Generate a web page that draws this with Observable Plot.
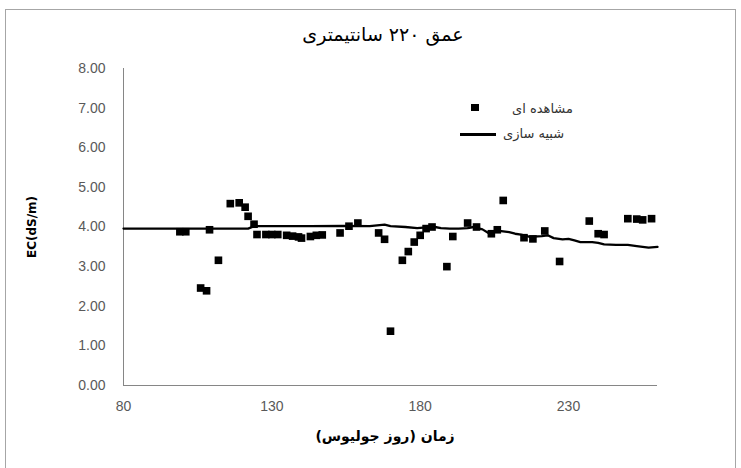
<!DOCTYPE html>
<html>
<head>
<meta charset="utf-8">
<script src="https://cdn.jsdelivr.net/npm/d3@7"></script>
<script src="https://cdn.jsdelivr.net/npm/@observablehq/plot@0.6"></script>
<style>
  html, body { margin: 0; padding: 0; background: #fff; overflow: hidden; }
  #wrap { position: relative; width: 741px; height: 468px; font-family: "Liberation Sans", "DejaVu Sans", sans-serif; }
  #frame { position: absolute; left: 5px; top: 9px; width: 731px; height: 480px; border: 1px solid #a6a6a6; box-sizing: border-box; }
  .abs { position: absolute; white-space: nowrap; }
  #title { left: 0; width: 766px; top: 23px; text-align: center; font-size: 19px; color: #000; direction: rtl; font-family: "DejaVu Sans", sans-serif; }
  #xtitle { left: 0; width: 770px; top: 428px; text-align: center; font-size: 14px; font-weight: bold; color: #000; direction: rtl; font-family: "DejaVu Sans", sans-serif; }
  #ytitle { left: 32px; top: 227px; transform: translate(-50%, -50%) rotate(-90deg); font-size: 12px; font-weight: bold; color: #000; font-family: "DejaVu Sans", sans-serif; }
  .legtxt { font-size: 13px; color: #333; direction: rtl; font-family: "DejaVu Sans", sans-serif; }
  svg { position: absolute; left: 0; top: 0; }
</style>
</head>
<body>
<div id="wrap">
  <div id="frame"></div>
</div>
<script>
// Observed EC (Julian day, dS/m)
const obsDay = [99, 101, 106, 108, 109, 112, 116, 119, 121, 122, 124, 125, 128, 130, 132, 135, 137, 139, 140, 143, 145, 147, 153, 156, 159, 166, 168, 170, 174, 176, 178, 180, 182, 184, 189, 191, 196, 199, 204, 206, 208, 215, 218, 222, 227, 237, 240, 242, 250, 253, 255, 258];
const obsEC  = [3.88, 3.88, 2.46, 2.39, 3.93, 3.16, 4.59, 4.61, 4.50, 4.27, 4.07, 3.81, 3.81, 3.81, 3.81, 3.79, 3.77, 3.75, 3.72, 3.76, 3.79, 3.80, 3.85, 4.02, 4.10, 3.85, 3.69, 1.37, 3.16, 3.38, 3.62, 3.79, 3.96, 4.00, 3.00, 3.76, 4.10, 4.00, 3.83, 3.93, 4.67, 3.73, 3.70, 3.90, 3.13, 4.15, 3.83, 3.81, 4.21, 4.20, 4.18, 4.21];

// Simulated EC
const simDay = [80, 122, 124, 143, 154, 163, 168, 170, 175, 179, 182, 185, 187, 190, 193, 196, 198, 201, 203, 206, 210, 212, 214, 217, 221, 223, 225, 228, 230, 232, 234, 238, 240, 242, 246, 250, 253, 257, 260];
const simEC  = [3.96, 3.96, 4.02, 4.02, 4.03, 4.02, 4.06, 4.02, 4.00, 3.97, 3.99, 4.00, 3.97, 3.96, 3.96, 3.97, 4.00, 3.94, 3.85, 3.91, 3.87, 3.83, 3.81, 3.75, 3.77, 3.79, 3.72, 3.69, 3.70, 3.66, 3.62, 3.62, 3.60, 3.56, 3.55, 3.55, 3.52, 3.48, 3.50];

const xTicks = [80, 130, 180, 230];
const yTicks = [0, 1, 2, 3, 4, 5, 6, 7, 8];

const titleText = "عمق ۲۲۰ سانتیمتری";
const xTitle = "زمان (روز جولیوس)";
const yTitle = "EC(dS/m)";
const legendObs = "مشاهده ای";
const legendSim = "شبیه سازی";

const obs = obsDay.map((d, i) => ({day: d, ec: obsEC[i]}));
const sim = simDay.map((d, i) => ({day: d, ec: simEC[i]}));

const chart = Plot.plot({
  width: 741,
  height: 468,
  marginLeft: 123,
  marginRight: 84,
  marginTop: 68,
  marginBottom: 83,
  style: { fontFamily: "Liberation Sans, Arial, sans-serif", fontSize: "14px", color: "#595959", background: "transparent", overflow: "visible" },
  x: { domain: [80, 260], ticks: xTicks, tickSize: 0, tickPadding: 16, label: null, tickFormat: d => String(d) },
  y: { domain: [0, 8], ticks: yTicks, tickSize: 0, tickPadding: 18, label: null, tickFormat: d => d.toFixed(2) },
  marks: [
    Plot.ruleX([80], { stroke: "#868686", strokeWidth: 1 }),
    Plot.ruleY([0], { stroke: "#868686", strokeWidth: 1 }),
    Plot.line(sim, { x: "day", y: "ec", stroke: "#000", strokeWidth: 2.3 }),
    Plot.dot(obs, { x: "day", y: "ec", symbol: "square", r: 4.3, fill: "#000", stroke: "none" })
  ]
});

const wrap = document.getElementById("wrap");
wrap.appendChild(chart);

function addDiv(id, cls, text) {
  const d = document.createElement("div");
  if (id) d.id = id;
  d.className = cls;
  d.textContent = text;
  wrap.appendChild(d);
  return d;
}
addDiv("title", "abs", titleText);
addDiv("xtitle", "abs", xTitle);
addDiv("ytitle", "abs", yTitle);

// legend
const m = document.createElement("div");
m.className = "abs";
Object.assign(m.style, { left: "471px", top: "104px", width: "8px", height: "7px", background: "#000" });
wrap.appendChild(m);
const l = document.createElement("div");
l.className = "abs";
Object.assign(l.style, { left: "460px", top: "133px", width: "36px", height: "2.5px", background: "#000" });
wrap.appendChild(l);
const t1 = addDiv(null, "abs legtxt", legendObs);
Object.assign(t1.style, { left: "512px", top: "101px" });
const t2 = addDiv(null, "abs legtxt", legendSim);
Object.assign(t2.style, { left: "503px", top: "126px" });
</script>
</body>
</html>
